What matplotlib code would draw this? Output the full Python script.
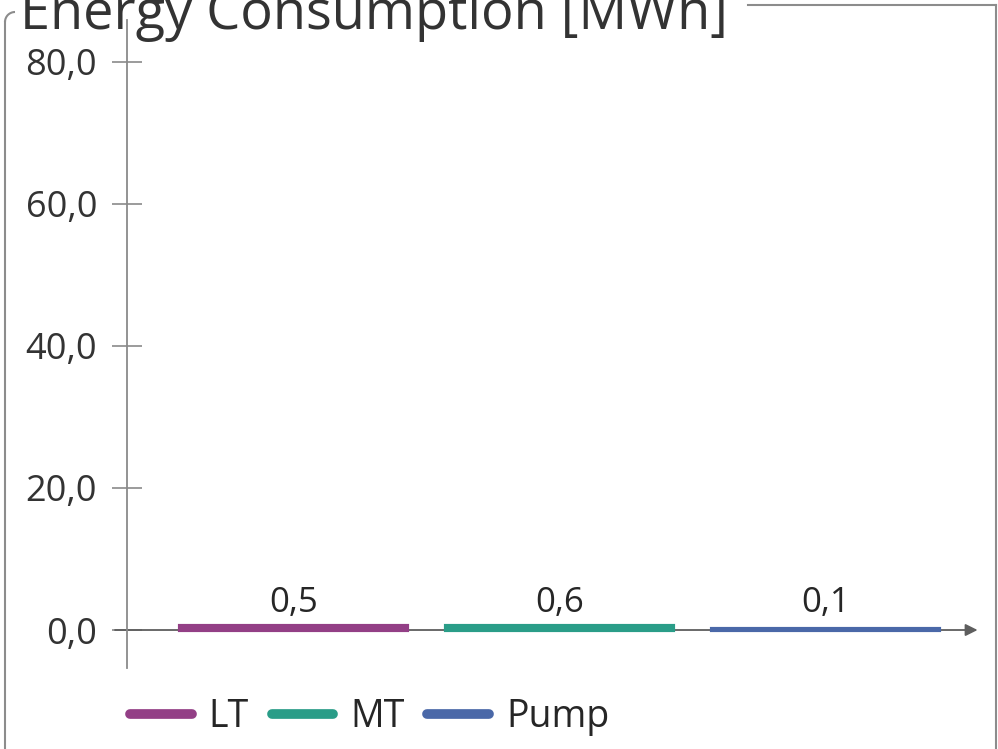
import matplotlib.pyplot as plt
from matplotlib.lines import Line2D
from matplotlib.patches import Arc
from matplotlib.ticker import FuncFormatter

plt.rcParams["font.family"] = ["Open Sans", "DejaVu Sans"]

# data
categories = ["LT", "MT", "Pump"]
values = [0.5, 0.6, 0.1]
colors = ["#933f86", "#2a9d88", "#4a68a8"]
y_ticks = [0, 20, 40, 60, 80]

W, H = 998, 749
fig = plt.figure(figsize=(W / 100, H / 100), dpi=100)
fig.patch.set_facecolor("white")


def fx(px):
    return px / W


def fy(py):
    return 1 - py / H


ax = fig.add_axes([fx(127), fy(668), fx(975) - fx(127), fy(20) - fy(668)])
ax.set_facecolor("none")
ax.set_xlim(-0.626, 2.562)
ax.set_ylim(-5.35, 85.9)

x = list(range(len(categories)))
bars = ax.bar(x, values, width=0.85, color=colors, edgecolor=colors, linewidth=3, zorder=3)
for xi, v in zip(x, values):
    ax.text(xi, 1.4, f"{v:.1f}".replace(".", ","), ha="center", va="bottom",
            fontsize=25, color="#262626")

for s in ["top", "right", "bottom"]:
    ax.spines[s].set_visible(False)
ax.spines["left"].set_color("#8a8a8a")
ax.spines["left"].set_linewidth(1.3)

ax.set_xticks([])
ax.set_yticks(y_ticks)
ax.yaxis.set_major_formatter(FuncFormatter(lambda v, p: f"{v:.1f}".replace(".", ",")))
ax.tick_params(axis="y", direction="inout", length=21, width=1.2, color="#8a8a8a",
               labelsize=26, labelcolor="#333333", pad=11)

# x axis line with arrow
ax.annotate("", xy=(1.003, 0), xycoords=("axes fraction", "data"),
            xytext=(-12 / 848, 0), textcoords=("axes fraction", "data"),
            arrowprops=dict(arrowstyle="-|>", color="#5e5e5e", lw=1.3,
                            mutation_scale=18, shrinkA=0, shrinkB=0),
            zorder=2, annotation_clip=False)

# title, partly cut at top as in the source screenshot
fig.text(fx(20), fy(29), "Energy Consumption [MWh]", fontsize=39, color="#333333",
         ha="left", va="baseline")

# group box frame
frame = "#8c8c8c"
fig.add_artist(Line2D([fx(748), fx(996)], [fy(5), fy(5)], color=frame, lw=1.5))
fig.add_artist(Line2D([fx(996), fx(996)], [fy(5), fy(749)], color=frame, lw=1.5))
fig.add_artist(Line2D([fx(5), fx(5)], [fy(22), fy(749)], color=frame, lw=1.5))
fig.add_artist(Arc((fx(15), fy(22)), fx(20), fx(20) * W / H, theta1=90, theta2=180,
                   transform=fig.transFigure, color=frame, lw=1.5))

handles = [Line2D([0], [0], color=c, lw=7, solid_capstyle="round") for c in colors]
fig.legend(handles, categories, loc="center left", bbox_to_anchor=(fx(130), fy(717)),
           ncol=3, frameon=False, fontsize=27, handlelength=1.65, handletextpad=0.45,
           columnspacing=0.6, borderpad=0, borderaxespad=0, labelcolor="#262626")

fig.savefig("out.png", dpi=100)
